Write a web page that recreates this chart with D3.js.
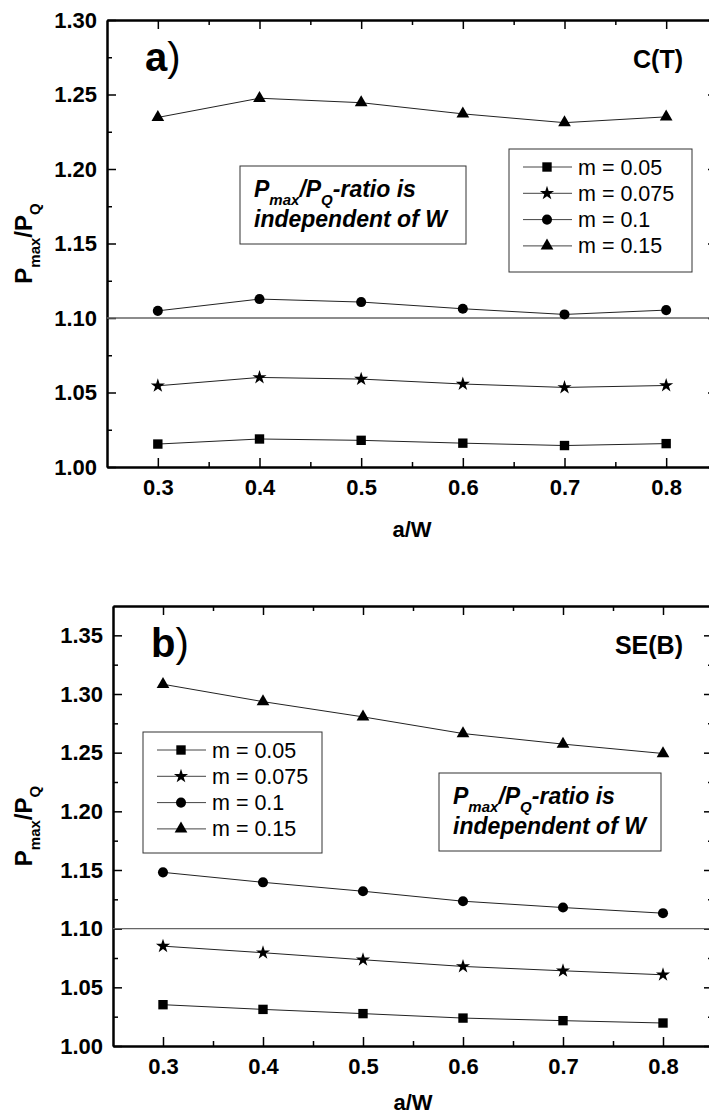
<!DOCTYPE html>
<html>
<head>
<meta charset="utf-8">
<title>Pmax/PQ vs a/W</title>
<script src="https://d3js.org/d3.v7.min.js"></script>
<style>
body { margin: 0; background: #fff; }
svg { display: block; font-family: "Liberation Sans", Arial, sans-serif; }
.axis path, .axis line { stroke: #000; }
.axis text { font-size: 22px; font-weight: bold; fill: #000; }
</style>
</head>
<body>
<div id="chart"></div>
<script>
var width = 709, height = 1119;

// a/W values shared by both panels
var aW = [0.3, 0.4, 0.5, 0.6, 0.7, 0.8];
var seriesNames = ["m = 0.05", "m = 0.075", "m = 0.1", "m = 0.15"];

// panel a) C(T)
var ctM005  = [1.0154, 1.0188, 1.0179, 1.0160, 1.0144, 1.0157];
var ctM0075 = [1.0545, 1.0601, 1.0590, 1.0557, 1.0534, 1.0547];
var ctM01   = [1.1048, 1.1127, 1.1107, 1.1062, 1.1024, 1.1053];
var ctM015  = [1.2346, 1.2475, 1.2445, 1.2370, 1.2311, 1.2350];

// panel b) SE(B)
var seM005  = [1.0352, 1.0312, 1.0276, 1.0238, 1.0216, 1.0196];
var seM0075 = [1.0851, 1.0795, 1.0735, 1.0678, 1.0641, 1.0607];
var seM01   = [1.1480, 1.1395, 1.1319, 1.1234, 1.1180, 1.1132];
var seM015  = [1.3083, 1.2935, 1.2805, 1.2663, 1.2573, 1.2493];

var refLine = 1.10;
var xTicks = [0.3, 0.4, 0.5, 0.6, 0.7, 0.8];
var xMinor = [0.35, 0.45, 0.55, 0.65, 0.75];
var yTicksA = [1.00, 1.05, 1.10, 1.15, 1.20, 1.25, 1.30];
var yMinorA = [1.025, 1.075, 1.125, 1.175, 1.225, 1.275];
var yTicksB = [1.00, 1.05, 1.10, 1.15, 1.20, 1.25, 1.30, 1.35];
var yMinorB = [1.025, 1.075, 1.125, 1.175, 1.225, 1.275, 1.325];

var symbols = [d3.symbolSquare, d3.symbolStar, d3.symbolCircle, d3.symbolTriangle];
var symSizes = [88, 62, 80, 70];

var svg = d3.select("#chart")
    .append("svg")
    .attr("width", width)
    .attr("height", height);

function drawPanel(p) {
    var x = d3.scaleLinear().domain([0.25, 0.85]).range([p.left, p.right]);
    var y = d3.scaleLinear().domain(p.yDomain).range([p.bottom, p.top]);
    var g = svg.append("g");

    // minor ticks first, then major axes on top
    g.append("g").attr("class", "axis")
        .attr("transform", "translate(0," + p.bottom + ")")
        .call(d3.axisBottom(x).tickValues(xMinor).tickSizeInner(-5).tickSizeOuter(0).tickFormat(""));
    g.append("g").attr("class", "axis")
        .attr("transform", "translate(0," + p.top + ")")
        .call(d3.axisTop(x).tickValues(xMinor).tickSizeInner(-5).tickSizeOuter(0).tickFormat(""));
    g.append("g").attr("class", "axis")
        .attr("transform", "translate(" + p.left + ",0)")
        .call(d3.axisLeft(y).tickValues(p.yMinor).tickSizeInner(-5).tickSizeOuter(0).tickFormat(""));
    g.append("g").attr("class", "axis")
        .attr("transform", "translate(" + p.right + ",0)")
        .call(d3.axisRight(y).tickValues(p.yMinor).tickSizeInner(-5).tickSizeOuter(0).tickFormat(""));

    g.append("g").attr("class", "axis")
        .attr("transform", "translate(0," + p.bottom + ")")
        .call(d3.axisBottom(x).tickValues(xTicks).tickSizeInner(-9).tickSizeOuter(0)
            .tickPadding(12).tickFormat(d3.format(".1f")));
    g.append("g").attr("class", "axis")
        .attr("transform", "translate(0," + p.top + ")")
        .call(d3.axisTop(x).tickValues(xTicks).tickSizeInner(-9).tickSizeOuter(0).tickFormat(""));
    g.append("g").attr("class", "axis")
        .attr("transform", "translate(" + p.left + ",0)")
        .call(d3.axisLeft(y).tickValues(p.yTicks).tickSizeInner(-9).tickSizeOuter(0)
            .tickPadding(10).tickFormat(d3.format(".2f")));
    g.append("g").attr("class", "axis")
        .attr("transform", "translate(" + p.right + ",0)")
        .call(d3.axisRight(y).tickValues(p.yTicks).tickSizeInner(-9).tickSizeOuter(0).tickFormat(""));

    g.selectAll(".axis path").attr("stroke-width", 2);
    g.selectAll(".axis line").attr("stroke-width", 1.5);

    // reference line at 1.10
    g.append("line")
        .attr("x1", p.left).attr("x2", p.right)
        .attr("y1", y(refLine)).attr("y2", y(refLine))
        .attr("stroke", "#666").attr("stroke-width", 1.3);

    var line = d3.line().x((d, i) => x(aW[i])).y(d => y(d));

    p.series.forEach(function(vals, k) {
        g.append("path")
            .attr("d", line(vals))
            .attr("fill", "none")
            .attr("stroke", "#222")
            .attr("stroke-width", 1);
        g.selectAll(".pt" + k)
            .data(vals)
            .enter()
            .append("path")
            .attr("transform", (d, i) => "translate(" + x(aW[i]) + "," + y(d) + ")")
            .attr("d", d3.symbol().type(symbols[k]).size(symSizes[k]))
            .attr("fill", "#000");
    });

    // axis titles
    g.append("text")
        .attr("x", (p.left + p.right) / 2)
        .attr("y", p.bottom + p.xTitle)
        .attr("text-anchor", "middle")
        .attr("font-size", 22).attr("font-weight", "bold")
        .text("a/W");

    var yt = g.append("text")
        .attr("transform", "translate(32," + ((p.top + p.bottom) / 2) + ") rotate(-90)")
        .attr("text-anchor", "middle")
        .attr("font-size", 24).attr("font-weight", "bold");
    yt.append("tspan").text("P");
    yt.append("tspan").attr("dy", 8).attr("font-size", 15).text("max");
    yt.append("tspan").attr("dy", -8).text("/P");
    yt.append("tspan").attr("dy", 8).attr("font-size", 15).text("Q");

    // panel letter
    var lt = g.append("text")
        .attr("x", p.left + 38).attr("y", p.top + 51)
        .attr("font-size", 40);
    lt.append("tspan").attr("font-weight", "bold").text(p.letter);
    lt.append("tspan").text(")");

    g.append("text")
        .attr("x", 683).attr("y", p.top + 48)
        .attr("text-anchor", "end")
        .attr("font-size", 25).attr("font-weight", "bold")
        .text(p.tag);

    // legend
    var lg = g.append("g").attr("transform", "translate(" + p.legend[0] + "," + p.legend[1] + ")");
    lg.append("rect")
        .attr("width", p.legend[2]).attr("height", p.legend[3])
        .attr("fill", "#fff").attr("stroke", "#333").attr("stroke-width", 1);
    seriesNames.forEach(function(name, k) {
        var cy = 18 + k * 26.3;
        lg.append("line")
            .attr("x1", 14).attr("x2", 63).attr("y1", cy).attr("y2", cy)
            .attr("stroke", "#444").attr("stroke-width", 1);
        lg.append("path")
            .attr("transform", "translate(38," + cy + ")")
            .attr("d", d3.symbol().type(symbols[k]).size(symSizes[k]))
            .attr("fill", "#000");
        lg.append("text")
            .attr("x", 69).attr("y", cy + 7.5)
            .attr("font-size", 21.5)
            .text(name);
    });

    // annotation box
    var ab = g.append("g").attr("transform", "translate(" + p.note[0] + "," + p.note[1] + ")");
    ab.append("rect")
        .attr("width", p.note[2]).attr("height", 78)
        .attr("fill", "#fff").attr("stroke", "#333").attr("stroke-width", 1);
    var t1 = ab.append("text")
        .attr("x", 14).attr("y", 31)
        .attr("font-size", 23).attr("font-weight", "bold").attr("font-style", "italic");
    t1.append("tspan").text("P");
    t1.append("tspan").attr("dy", 8).attr("font-size", 15).text("max");
    t1.append("tspan").attr("dy", -8).text("/P");
    t1.append("tspan").attr("dy", 8).attr("font-size", 15).text("Q");
    t1.append("tspan").attr("dy", -8).text("-ratio is");
    ab.append("text")
        .attr("x", 14).attr("y", 61)
        .attr("font-size", 23).attr("font-weight", "bold").attr("font-style", "italic")
        .text("independent of W");
}

drawPanel({
    left: 107, right: 717, top: 20, bottom: 467,
    yDomain: [1.00, 1.30], yTicks: yTicksA, yMinor: yMinorA,
    series: [ctM005, ctM0075, ctM01, ctM015],
    letter: "a", tag: "C(T)", xTitle: 70,
    legend: [509, 149, 183, 123],
    note: [240, 166, 226]
});

drawPanel({
    left: 113, right: 713, top: 606, bottom: 1046,
    yDomain: [1.00, 1.375], yTicks: yTicksB, yMinor: yMinorB,
    series: [seM005, seM0075, seM01, seM015],
    letter: "b", tag: "SE(B)", xTitle: 64,
    legend: [143, 732, 179, 121],
    note: [439, 773, 222]
});
</script>
</body>
</html>
